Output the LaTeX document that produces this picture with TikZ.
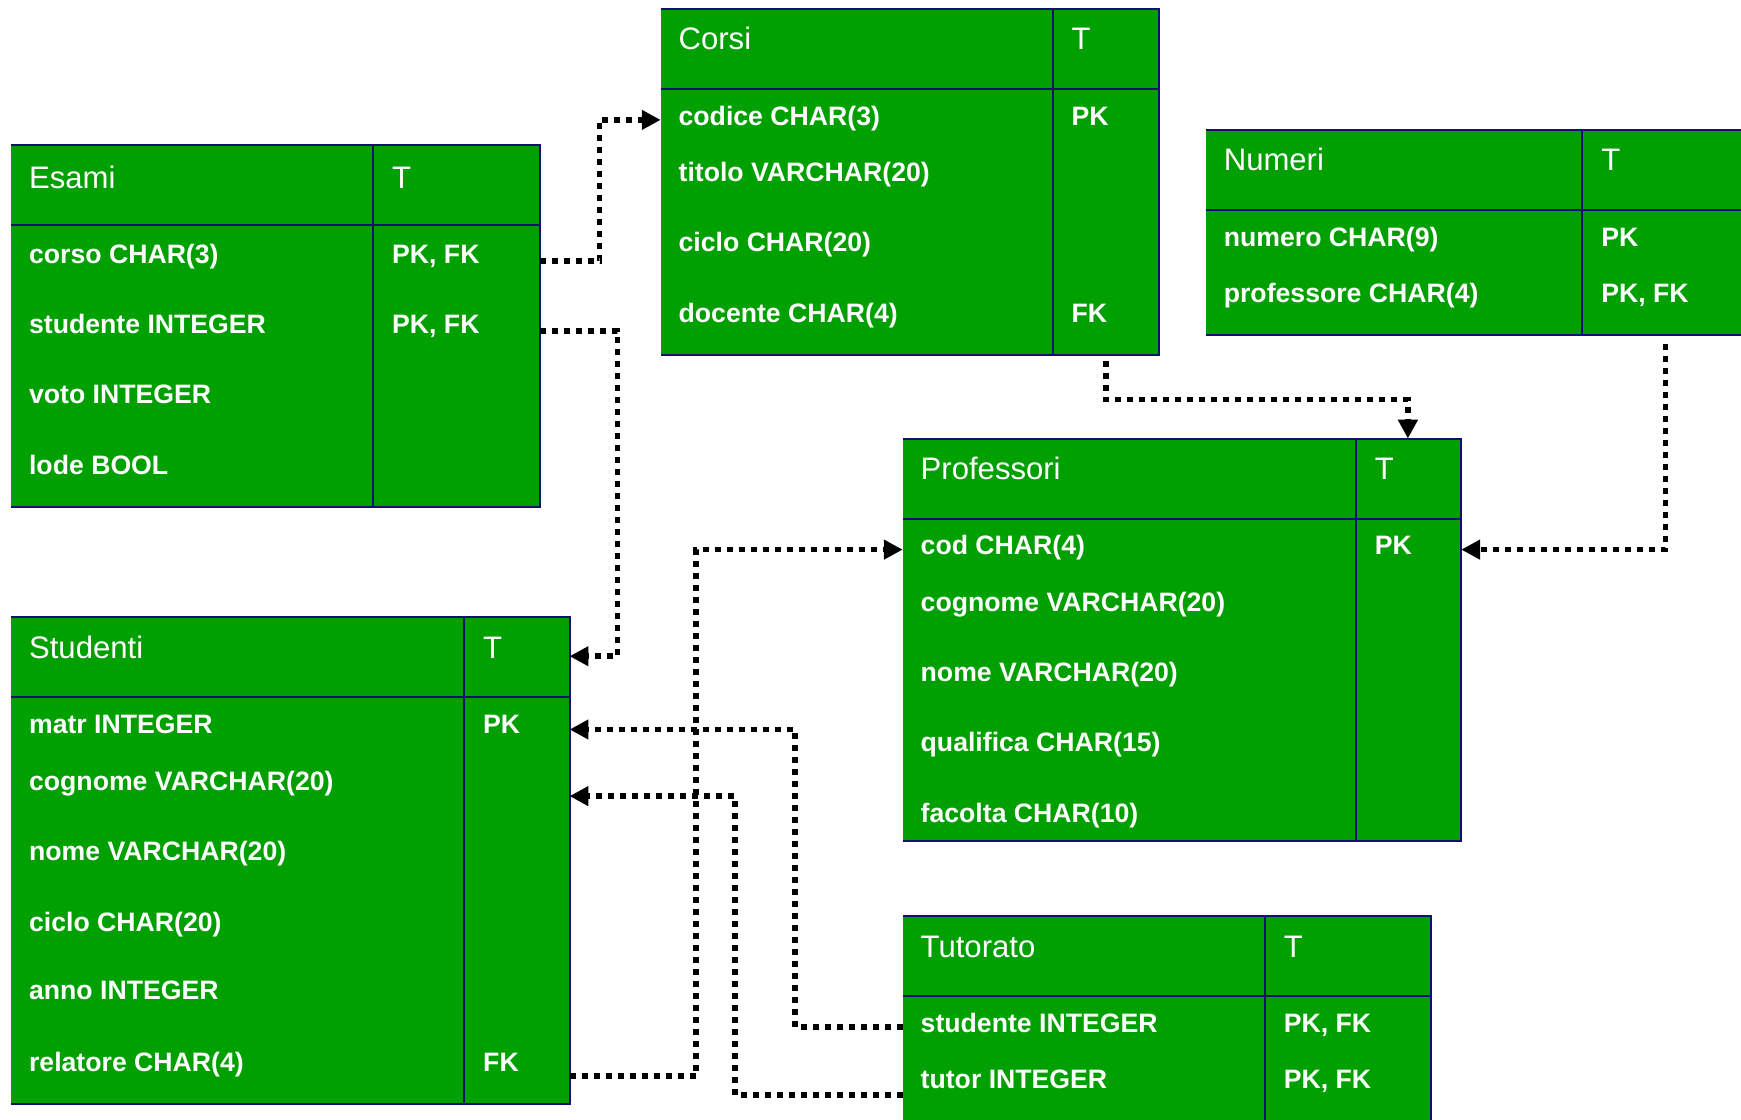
\documentclass[tikz,border=0pt]{standalone}
\usepackage{fontspec}
\setmainfont{Liberation Sans}
\usetikzlibrary{arrows.meta}
\definecolor{tgreen}{RGB}{0,160,0}
\definecolor{tnavy}{RGB}{16,16,112}
\tikzset{
  tbody/.style={fill=tgreen, draw=none, inner sep=0pt, outer sep=0pt, anchor=north west},
  border/.style={draw=tnavy, line width=1.8pt},
  ttitle/.style={anchor=west, text=white, inner sep=0pt, text height=20pt, text depth=0pt, font=\fontsize{28}{30}\selectfont},
  tfield/.style={anchor=west, text=white, inner sep=0pt, text height=17.2pt, text depth=0pt, font=\bfseries\fontsize{24}{26}\selectfont},
  fk/.style={draw=black, line width=5pt, dash pattern=on 5.4pt off 5.4pt, -{Triangle[length=17pt,width=17pt]}},
}
\newcommand\tblborders[2]{%
  \draw[border] (#1.north west) -- (#1.north east) -- (#1.south east) -- (#1.south west);
  \draw[border] ([yshift=-72pt]#1.north west) -- ([yshift=-72pt]#1.north east);
  \draw[border] ([xshift=#2]#1.north west) -- ([xshift=#2]#1.south west);
}
\begin{document}
\begin{tikzpicture}[x=1pt,y=-1pt]
\useasboundingbox (0,0) rectangle (1568,1008);
\clip (0,0) rectangle (1568,1008);

% ---------- Esami
\node[tbody, minimum width=476pt, minimum height=326pt] (esami) at (10,131) {};
\tblborders{esami}{326pt}
\node[ttitle] (esami-t) at (26,160) {Esami};
\node[ttitle] (esami-tt) at (353,160) {T};
\node[tfield] (esami-corso) at (26,229) {corso CHAR(3)};
\node[tfield] (esami-stud) at (26,292) {studente INTEGER};
\node[tfield] (esami-voto) at (26,355) {voto INTEGER};
\node[tfield] (esami-lode) at (26,419) {lode BOOL};
\node[tfield] (esami-k1) at (353,229) {PK, FK};
\node[tfield] (esami-k2) at (353,292) {PK, FK};

% ---------- Corsi
\node[tbody, minimum width=449pt, minimum height=312pt] (corsi) at (595,8) {};
\tblborders{corsi}{353pt}
\node[ttitle] (corsi-t) at (611,35) {Corsi};
\node[ttitle] (corsi-tt) at (965,35) {T};
\node[tfield] (corsi-codice) at (611,104) {codice CHAR(3)};
\node[tfield] (corsi-titolo) at (611,155) {titolo VARCHAR(20)};
\node[tfield] (corsi-ciclo) at (611,218) {ciclo CHAR(20)};
\node[tfield] (corsi-docente) at (611,282) {docente CHAR(4)};
\node[tfield] (corsi-k1) at (965,104) {PK};
\node[tfield] (corsi-k2) at (965,282) {FK};

% ---------- Numeri
\node[tbody, minimum width=520pt, minimum height=185pt] (numeri) at (1086,117) {};
\tblborders{numeri}{339pt}
\node[ttitle] (numeri-t) at (1102,144) {Numeri};
\node[ttitle] (numeri-tt) at (1442,144) {T};
\node[tfield] (numeri-numero) at (1102,213) {numero CHAR(9)};
\node[tfield] (numeri-prof) at (1102,264) {professore CHAR(4)};
\node[tfield] (numeri-k1) at (1442,213) {PK};
\node[tfield] (numeri-k2) at (1442,264) {PK, FK};

% ---------- Professori
\node[tbody, minimum width=503pt, minimum height=362pt] (prof) at (813,395) {};
\tblborders{prof}{408pt}
\node[ttitle] (prof-t) at (829,422) {Professori};
\node[ttitle] (prof-tt) at (1238,422) {T};
\node[tfield] (prof-cod) at (829,491) {cod CHAR(4)};
\node[tfield] (prof-cognome) at (829,542) {cognome VARCHAR(20)};
\node[tfield] (prof-nome) at (829,605) {nome VARCHAR(20)};
\node[tfield] (prof-qual) at (829,668) {qualifica CHAR(15)};
\node[tfield] (prof-fac) at (829,732) {facolta CHAR(10)};
\node[tfield] (prof-k1) at (1238,491) {PK};

% ---------- Studenti
\node[tbody, minimum width=503pt, minimum height=438pt] (stud) at (10,556) {};
\tblborders{stud}{408pt}
\node[ttitle] (stud-t) at (26,583) {Studenti};
\node[ttitle] (stud-tt) at (435,583) {T};
\node[tfield] (stud-matr) at (26,652) {matr INTEGER};
\node[tfield] (stud-cognome) at (26,703) {cognome VARCHAR(20)};
\node[tfield] (stud-nome) at (26,766) {nome VARCHAR(20)};
\node[tfield] (stud-ciclo) at (26,830) {ciclo CHAR(20)};
\node[tfield] (stud-anno) at (26,892) {anno INTEGER};
\node[tfield] (stud-rel) at (26,956) {relatore CHAR(4)};
\node[tfield] (stud-k1) at (435,652) {PK};
\node[tfield] (stud-k2) at (435,956) {FK};

% ---------- Tutorato
\node[tbody, minimum width=476pt, minimum height=215pt] (tut) at (813,825) {};
\tblborders{tut}{326pt}
\node[ttitle] (tut-t) at (829,852) {Tutorato};
\node[ttitle] (tut-tt) at (1156,852) {T};
\node[tfield] (tut-stud) at (829,921) {studente INTEGER};
\node[tfield] (tut-tutor) at (829,972) {tutor INTEGER};
\node[tfield] (tut-k1) at (1156,921) {PK, FK};
\node[tfield] (tut-k2) at (1156,972) {PK, FK};

% ---------- connectors
\draw[fk] ([yshift=-104pt]esami.north east) -- ++(54,0) |- ([yshift=-100pt]corsi.north west);
\draw[fk] ([yshift=-167pt]esami.north east) -- ++(70,0) |- ([yshift=-35pt]stud.north east);
\draw[fk] ([xshift=-48pt,yshift=-5pt]corsi.south east) -- ++(0,35) -| ([xshift=-48pt]prof.north east);
\draw[fk] ([xshift=414pt,yshift=-8pt]numeri.south west) |- ([yshift=-100pt]prof.north east);
\draw[fk] ([yshift=-413pt]stud.north east) -- ++(114,0) |- ([yshift=-100pt]prof.north west);
\draw[fk] ([yshift=-100pt]tut.north west) -- ++(-97,0) |- ([yshift=-101pt]stud.north east);
\draw[fk] ([yshift=-161pt]tut.north west) -- ++(-151,0) |- ([yshift=-161pt]stud.north east);
\end{tikzpicture}
\end{document}
